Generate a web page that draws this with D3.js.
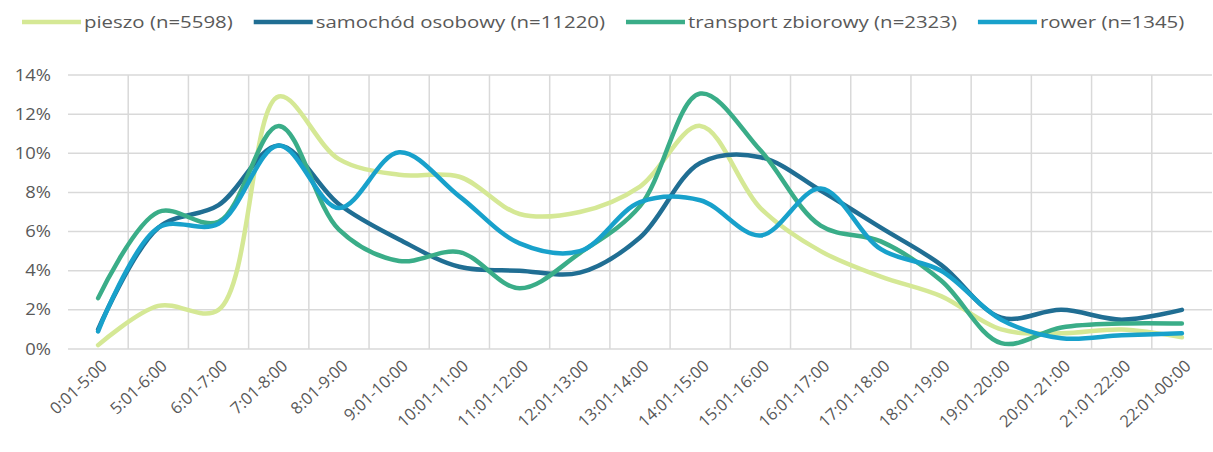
<html>
<head>
<meta charset="utf-8">
<style>
body { margin: 0; background: #fff; }
text { font-family: "Open Sans", sans-serif; fill: #595959; }
</style>
</head>
<body>
<div id="chart"></div>
<script src="https://d3js.org/d3.v7.min.js"></script>
<script>

var categories = ["0:01-5:00", "5:01-6:00", "6:01-7:00", "7:01-8:00", "8:01-9:00", "9:01-10:00",
    "10:01-11:00", "11:01-12:00", "12:01-13:00", "13:01-14:00", "14:01-15:00", "15:01-16:00",
    "16:01-17:00", "17:01-18:00", "18:01-19:00", "19:01-20:00", "20:01-21:00", "21:01-22:00", "22:01-00:00"]

var seriesNames = ["pieszo (n=5598)", "samochód osobowy (n=11220)", "transport zbiorowy (n=2323)", "rower (n=1345)"]

// percent values
var pieszo     = [0.2, 2.2, 2.0, 12.9, 9.7, 8.9, 8.8, 6.9, 7.0, 8.3, 11.4, 7.2, 5.0, 3.7, 2.7, 1.0, 0.8, 1.0, 0.6]
var samochod   = [1.0, 6.2, 7.35, 10.4, 7.4, 5.6, 4.2, 4.0, 3.9, 5.7, 9.5, 9.8, 8.1, 6.2, 4.3, 1.6, 2.0, 1.5, 2.0]
var transport  = [2.6, 7.0, 6.5, 11.4, 6.1, 4.5, 4.95, 3.1, 4.9, 7.3, 13.05, 10.15, 6.3, 5.5, 3.5, 0.3, 1.1, 1.3, 1.3]
var rower      = [0.9, 6.2, 6.4, 10.4, 7.2, 10.05, 7.8, 5.4, 5.0, 7.5, 7.6, 5.8, 8.2, 5.1, 4.0, 1.5, 0.55, 0.7, 0.8]

var yTicks = [0, 2, 4, 6, 8, 10, 12, 14]

var colors = ["#d5e895", "#206e93", "#3aad88", "#18a1cb"]

var series = [pieszo, samochod, transport, rower]

var W = 1213, H = 452
var margin = {top: 75, right: 1, bottom: 103, left: 68}
var width = W - margin.left - margin.right,
    height = H - margin.top - margin.bottom
var SX = 1.15  // text looks horizontally stretched in the original
var SXL = 1.2  // legend a bit more

var svg = d3.select("#chart")
  .append("svg")
  .attr("width", W)
  .attr("height", H)

var g = svg.append("g")
  .attr("transform", "translate(" + margin.left + "," + margin.top + ")")

var x = d3.scaleBand()
  .domain(categories)
  .range([0, width])

var y = d3.scaleLinear()
  .domain([0, 14])
  .range([height, 0])

// horizontal grid
g.selectAll(".hgrid")
  .data(yTicks)
  .enter().append("line")
  .attr("class", "hgrid")
  .attr("x1", 0)
  .attr("x2", width)
  .attr("y1", d => y(d))
  .attr("y2", d => y(d))
  .style("stroke", "#d9d9d9")
  .style("stroke-width", 1.5)

// vertical grid between categories
g.selectAll(".vgrid")
  .data(categories.slice(1))
  .enter().append("line")
  .attr("class", "vgrid")
  .attr("x1", d => x(d))
  .attr("x2", d => x(d))
  .attr("y1", y(14))
  .attr("y2", y(0))
  .style("stroke", "#d9d9d9")
  .style("stroke-width", 1.5)

// y labels
g.selectAll(".ylab")
  .data(yTicks)
  .enter().append("text")
  .attr("class", "ylab")
  .attr("transform", d => "translate(-17," + y(d) + ") scale(" + SX + ",1)")
  .attr("text-anchor", "end")
  .attr("dy", "0.35em")
  .style("font-size", "16px")
  .text(d => d + "%")

// x labels
g.selectAll(".xlab")
  .data(categories)
  .enter().append("text")
  .attr("class", "xlab")
  .attr("transform", d => "translate(" + (x(d) + x.bandwidth() / 2 + 6) + "," + (height + 14) + ") rotate(-43)")
  .attr("text-anchor", "end")
  .attr("dy", "0.35em")
  .style("font-size", "16.5px")
  .text(d => d)

var line = d3.line()
  .x((d, i) => x(categories[i]) + x.bandwidth() / 2)
  .y(d => y(d))
  .curve(d3.curveCatmullRom.alpha(0.5))

g.selectAll(".series")
  .data(series)
  .enter().append("path")
  .attr("class", "series")
  .attr("d", d => line(d))
  .style("fill", "none")
  .style("stroke", (d, i) => colors[i])
  .style("stroke-width", 4.5)
  .style("stroke-linecap", "round")

// legend
var legend = svg.append("g").attr("class", "legend")
var lx = 22, ly = 22
seriesNames.forEach(function(name, i){
    legend.append("line")
      .attr("x1", lx).attr("x2", lx + 59)
      .attr("y1", ly).attr("y2", ly)
      .style("stroke", colors[i])
      .style("stroke-width", 4.5)
    var t = legend.append("text")
      .attr("transform", "translate(" + (lx + 62) + "," + ly + ") scale(" + SXL + ",1)")
      .attr("dy", "0.35em")
      .style("font-size", "17px")
      .text(name)
    lx += 62 + t.node().getComputedTextLength() * SXL + 21
})

</script>
</body>
</html>
